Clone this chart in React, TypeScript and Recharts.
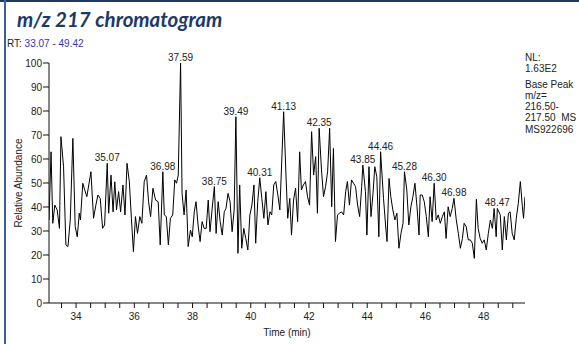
import React from 'react';
import { LineChart, Line, XAxis, YAxis, LabelList } from 'recharts';

const times = [
  33.07, 33.14, 33.2, 33.27, 33.35, 33.43, 33.48, 33.57, 33.65, 33.72, 33.8, 33.89, 33.97, 34.04, 34.11, 34.15,
  34.23, 34.3, 34.37, 34.51, 34.6, 34.68, 34.75, 34.83, 34.91, 34.98, 35.07, 35.12, 35.2, 35.27, 35.33, 35.39,
  35.46, 35.53, 35.61, 35.68, 35.75, 35.83, 35.9, 35.97, 36.04, 36.11, 36.19, 36.26, 36.34, 36.42, 36.49, 36.56,
  36.64, 36.73, 36.82, 36.89, 36.98, 37.03, 37.1, 37.17, 37.24, 37.32, 37.39, 37.45, 37.51, 37.59, 37.64, 37.71,
  37.78, 37.85, 37.93, 37.99, 38.06, 38.12, 38.19, 38.26, 38.33, 38.4, 38.47, 38.54, 38.6, 38.67, 38.75, 38.81,
  38.88, 38.95, 39.02, 39.09, 39.15, 39.22, 39.29, 39.36, 39.43, 39.49, 39.56, 39.62, 39.69, 39.76, 39.83, 39.9,
  39.97, 40.04, 40.11, 40.17, 40.24, 40.31, 40.38, 40.45, 40.52, 40.59, 40.66, 40.72, 40.79, 40.86, 40.93, 41.0,
  41.13, 41.21, 41.27, 41.34, 41.4, 41.47, 41.54, 41.61, 41.68, 41.74, 41.81, 41.88, 41.95, 42.02, 42.09, 42.16,
  42.23, 42.29, 42.35, 42.43, 42.5, 42.57, 42.64, 42.71, 42.78, 42.84, 42.91, 42.98, 43.05, 43.12, 43.19, 43.26,
  43.32, 43.39, 43.46, 43.53, 43.6, 43.67, 43.74, 43.81, 43.85, 43.94, 43.99, 44.06, 44.13, 44.2, 44.26, 44.33,
  44.4, 44.46, 44.56, 44.63, 44.68, 44.75, 44.81, 44.88, 44.95, 45.02, 45.09, 45.16, 45.23, 45.28, 45.36, 45.43,
  45.5, 45.57, 45.64, 45.71, 45.78, 45.82, 45.89, 45.96, 46.03, 46.1, 46.16, 46.23, 46.3, 46.37, 46.44, 46.51,
  46.58, 46.65, 46.71, 46.78, 46.85, 46.92, 46.98, 47.06, 47.13, 47.2, 47.27, 47.33, 47.4, 47.47, 47.54, 47.61,
  47.68, 47.75, 47.81, 47.88, 47.95, 48.02, 48.09, 48.16, 48.23, 48.3, 48.36, 48.43, 48.47, 48.57, 48.64, 48.71,
  48.78, 48.85, 48.91, 48.98, 49.05, 49.12, 49.19, 49.26, 49.33, 49.37, 49.42,
];

const abundance = [
  34.6, 63, 33.2, 40.8, 38.8, 31.1, 69.3, 56.8, 24.2, 23.5, 34.6, 68.6, 31.8, 27.6, 37.4, 34.6,
  49.9, 47, 44.3, 54.7, 35.3, 40.8, 45, 43.6, 31.1, 32.5, 58.2, 37.4, 53.3, 38, 50.5, 38.8,
  46.4, 38, 49.2, 36.7, 58.2, 50.5, 35.3, 21.4, 36, 29, 36, 33.2, 50.5, 53.3, 42.2, 36,
  47.8, 42.9, 42.2, 24.2, 54.7, 36.7, 36, 24.2, 35.3, 36.7, 51.3, 49.9, 53.3, 100, 45.7, 36.7,
  47.1, 23.5, 30.4, 27.6, 38, 42.2, 32.5, 25.6, 33.9, 31.1, 31.1, 42.9, 29.7, 38.8, 48.5, 29,
  42.2, 33.9, 28.3, 38, 39.4, 45.7, 42.2, 29.7, 38.8, 77.6, 20.7, 49.2, 22.8, 31.1, 26.9, 22.1,
  36.7, 40.8, 49.2, 24.9, 42.2, 52.2, 43.6, 35.3, 46.4, 32.5, 38, 36.7, 49.2, 50.6, 45, 38.8,
  79.7, 53.3, 35.3, 43.6, 28.3, 42.9, 47.8, 33.9, 63, 47.1, 49.2, 50.6, 44.3, 40.8, 71.4, 53.3,
  61, 37.4, 72.8, 55.4, 44.3, 48.5, 54.7, 72.8, 40.1, 64.4, 25.6, 36.7, 37.4, 38, 36.7, 46.4,
  50.6, 40.8, 51.3, 49.9, 48.5, 40.8, 36, 48.5, 57.5, 46.4, 28.3, 56.8, 36, 45.7, 56.8, 52.6,
  27.6, 63, 43.6, 32.5, 25.6, 51.9, 44.3, 38.8, 34.6, 37.4, 22.8, 29, 33.2, 54.7, 47.1, 32.5,
  40.1, 44.3, 49.9, 40.1, 28.3, 45, 45, 42.2, 36, 27.6, 44.3, 33.9, 49.9, 34.6, 36.7, 33.2,
  36, 38, 26.9, 40.1, 36, 39.4, 43.6, 34.6, 29, 22.8, 26.9, 33.2, 31.8, 26.3, 26.3, 24.9,
  18.6, 43.2, 31.1, 26.9, 24.9, 26.3, 22.1, 29, 34.6, 31.1, 39.4, 27.6, 39.4, 36.7, 22.1, 36,
  26.3, 37.4, 38, 29, 26.3, 35.3, 41.5, 50.6, 40.1, 35.3, 44.3,
];

const peakLabels = [
  '35.07', '36.98', '37.59', '38.75', '39.49', '40.31', '41.13', '42.35',
  '43.85', '44.46', '45.28', '46.30', '46.98', '48.47',
];

const yTicks = [0, 10, 20, 30, 40, 50, 60, 70, 80, 90, 100];
const xTicks = [
  33.5, 34, 34.5, 35, 35.5, 36, 36.5, 37, 37.5, 38, 38.5, 39, 39.5, 40, 40.5, 41,
  41.5, 42, 42.5, 43, 43.5, 44, 44.5, 45, 45.5, 46, 46.5, 47, 47.5, 48, 48.5, 49,
];

const infoLines = ['NL:', '1.63E2', 'Base Peak', 'm/z=', '216.50-', '217.50  MS', 'MS922696'];

const data = times.map((t, i) => {
  const key = t.toFixed(2);
  return { t, v: abundance[i], label: peakLabels.includes(key) ? key : undefined };
});

const FONT = '"Liberation Sans", Arial, sans-serif';

const renderPeak = (props: any) => {
  const { x, y, value } = props;
  if (!value) return null;
  return (
    <text x={x} y={y - 2} textAnchor="middle" fontSize={10} fontFamily={FONT} fill="#222">
      {value}
    </text>
  );
};

const xFmt = (v: number) => (Number.isInteger(v) && v % 2 === 0 ? String(v) : '');

export default function App() {
  return (
    <div
      style={{
        position: 'fixed',
        left: 0,
        top: 0,
        width: 579,
        height: 344,
        background: '#fff',
        overflow: 'hidden',
      }}
    >
      <div style={{ position: 'absolute', left: 0, top: 0, width: 579, height: 2, background: '#1f3a62' }} />
      <div style={{ position: 'absolute', left: 4, top: 0, width: 2, height: 344, background: '#3f5f90' }} />
      <div
        style={{
          position: 'absolute',
          left: 17,
          top: 5,
          fontFamily: 'Lato, "Open Sans", sans-serif',
          fontWeight: 700,
          fontStyle: 'italic',
          fontSize: 20.5,
          lineHeight: '28px',
          color: '#1c3a64',
          whiteSpace: 'nowrap',
        }}
      >
        m/z 217 chromatogram
      </div>
      <div
        style={{
          position: 'absolute',
          left: 7,
          top: 38,
          fontFamily: FONT,
          fontSize: 10,
          lineHeight: '12px',
          color: '#222',
          whiteSpace: 'nowrap',
        }}
      >
        RT: <span style={{ color: '#3535b5' }}>33.07 - 49.42</span>
      </div>
      <div
        style={{
          position: 'absolute',
          left: 525,
          top: 52,
          fontFamily: FONT,
          fontSize: 10,
          lineHeight: '11.3px',
          color: '#222',
          whiteSpace: 'pre',
        }}
      >
        {infoLines.map((l, i) => (
          <div key={i} style={{ marginTop: i === 2 ? 4 : 0 }}>
            {l}
          </div>
        ))}
      </div>
      <div
        style={{
          position: 'absolute',
          left: 18,
          top: 183,
          transform: 'translate(-50%, -50%) rotate(-90deg)',
          fontFamily: FONT,
          fontSize: 10,
          color: '#222',
          whiteSpace: 'nowrap',
        }}
      >
        Relative Abundance
      </div>
      <div
        style={{
          position: 'absolute',
          left: 287,
          top: 332,
          transform: 'translate(-50%, -50%)',
          fontFamily: FONT,
          fontSize: 10,
          color: '#222',
          whiteSpace: 'nowrap',
        }}
      >
        Time (min)
      </div>
      <div style={{ position: 'absolute', left: 0, top: 0 }}>
        <LineChart width={579} height={344} data={data} margin={{ top: 63, right: 54, bottom: 11, left: 9 }}>
          <XAxis
            dataKey="t"
            type="number"
            domain={[33.07, 49.42]}
            allowDataOverflow
            ticks={xTicks}
            interval={0}
            tickFormatter={xFmt}
            tickSize={5}
            tickMargin={5}
            height={30}
            stroke="#111"
            tick={{ fontSize: 10, fontFamily: FONT, fill: '#222' }}
          />
          <YAxis
            type="number"
            domain={[0, 100]}
            ticks={yTicks}
            interval={0}
            tickSize={6}
            tickMargin={1}
            width={40}
            stroke="#111"
            tick={{ fontSize: 10, fontFamily: FONT, fill: '#222' }}
          />
          <Line
            type="linear"
            dataKey="v"
            stroke="#000"
            strokeWidth={1}
            dot={false}
            isAnimationActive={false}
          >
            <LabelList dataKey="label" content={renderPeak} />
          </Line>
        </LineChart>
      </div>
    </div>
  );
}
